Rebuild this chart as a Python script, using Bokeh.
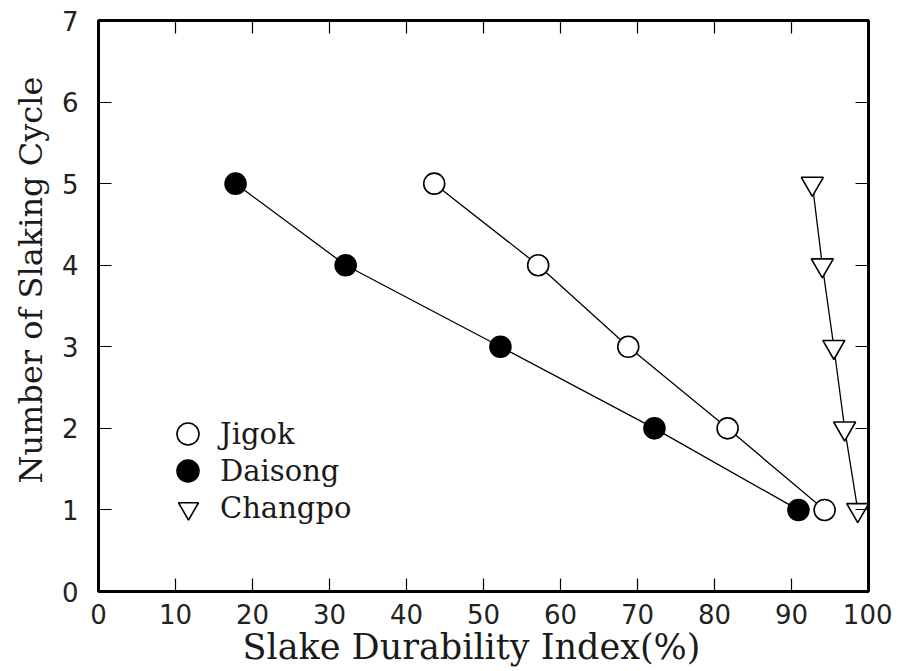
from bokeh.plotting import figure
from bokeh.models import Range1d, LinearAxis, Legend, LegendItem, FixedTicker, Title
from bokeh.embed import file_html
from bokeh.resources import INLINE

cycles = [1, 2, 3, 4, 5]
jigok = [94.3, 81.7, 68.8, 57.1, 43.6]
daisong = [90.9, 72.2, 52.2, 32.1, 17.8]
changpo = [98.6, 96.9, 95.5, 94.0, 92.7]

x_ticks = [0, 10, 20, 30, 40, 50, 60, 70, 80, 90, 100]
y_ticks = [0, 1, 2, 3, 4, 5, 6, 7]

TITLE_FONT = "DejaVu Serif"
TICK_FONT = "DejaVu Sans"
INK = "#1a1a1a"

p = figure(width=892, height=668, output_backend="svg", toolbar_location=None,
           x_range=Range1d(0, 100), y_range=Range1d(0, 7),
           min_border_left=96, min_border_right=24, min_border_top=20, min_border_bottom=77)
p.background_fill_color = "white"
p.border_fill_color = "white"
p.grid.visible = False
p.outline_line_color = "black"
p.outline_line_width = 3

for ax in [p.xaxis[0], p.yaxis[0]]:
    ax.axis_line_color = None
    ax.major_tick_in = 13
    ax.major_tick_out = 0
    ax.minor_tick_line_color = None
    ax.major_tick_line_width = 1.2
    ax.major_tick_line_color = "black"
    ax.major_label_text_font = TICK_FONT
    ax.major_label_text_font_size = "26px"
    ax.major_label_text_color = "#222222"

p.xaxis[0].ticker = FixedTicker(ticks=x_ticks)
p.yaxis[0].ticker = FixedTicker(ticks=y_ticks)
p.xaxis[0].major_label_standoff = 12
p.yaxis[0].major_label_standoff = 20

top = LinearAxis(ticker=FixedTicker(ticks=x_ticks),
                 major_label_overrides={t: "" for t in x_ticks})
right = LinearAxis(ticker=FixedTicker(ticks=y_ticks),
                   major_label_overrides={t: "" for t in y_ticks})
for ax in [top, right]:
    ax.axis_line_color = None
    ax.major_tick_in = 13
    ax.major_tick_out = 0
    ax.minor_tick_line_color = None
    ax.major_tick_line_width = 1.2
    ax.major_label_standoff = 0
p.add_layout(top, "above")
p.add_layout(right, "right")

xt = Title(text="Slake Durability Index(%)", align="left", offset=144,
           vertical_align="top",
           text_font=TITLE_FONT, text_font_size="35px", text_font_style="normal",
           text_color=INK, standoff=0)
yt = Title(text="Number of Slaking Cycle", align="left", offset=108,
           text_font=TITLE_FONT, text_font_size="32px", text_font_style="normal",
           text_color=INK, standoff=18)
p.add_layout(xt, "below")
p.add_layout(yt, "left")

# connecting lines
p.line(jigok, cycles, line_color="black", line_width=1.3)
p.line(daisong, cycles, line_color="black", line_width=1.3)
p.line(changpo, cycles, line_color="black", line_width=1.3)

r_j = p.scatter(jigok, cycles, marker="circle", size=21, fill_color="white",
                line_color="black", line_width=1.6)
r_d = p.scatter(daisong, cycles, marker="circle", size=21, fill_color="black",
                line_color="black", line_width=1.6)
r_c = p.scatter(changpo, cycles, marker="inverted_triangle", size=22, fill_color="white",
                line_color="black", line_width=1.6)

legend_specs = [
    ("Jigok", r_j, 55, (62, 130)),
    ("Daisong", r_d, 55, (62, 93)),
    ("Changpo", r_c, 50, (65, 58)),
]
for label, rend, gsize, loc in legend_specs:
    lg = Legend(items=[LegendItem(label=label, renderers=[rend])], location=loc)
    lg.label_text_font = TITLE_FONT
    lg.label_text_font_size = "29px"
    lg.label_text_color = INK
    lg.glyph_width = gsize
    lg.glyph_height = gsize
    lg.label_height = gsize
    lg.label_standoff = 5 + (55 - gsize) // 2
    lg.padding = 0
    lg.margin = 0
    lg.border_line_color = None
    lg.background_fill_alpha = 0
    p.add_layout(lg, "center")

open("out.html", "w").write(file_html(p, INLINE))
